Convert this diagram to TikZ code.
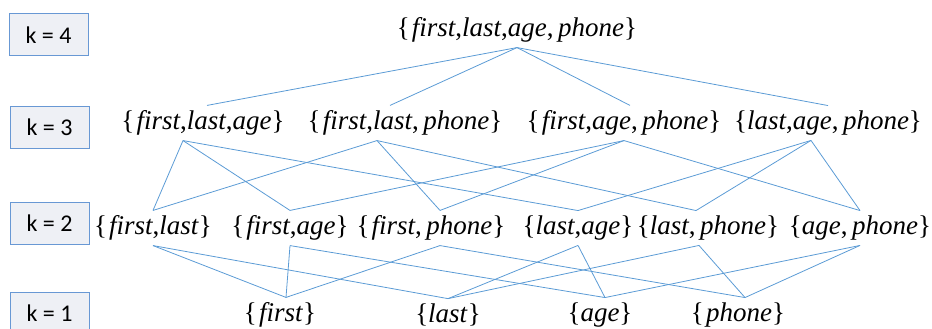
\documentclass[tikz,border=0pt]{standalone}
\usepackage{fontspec}
\setmainfont{Liberation Serif}
\newfontfamily\boxfont{Carlito}
\definecolor{linkblue}{RGB}{91,155,213}
\definecolor{boxfill}{RGB}{238,240,245}
\definecolor{boxline}{RGB}{104,152,212}
\newcommand{\attr}[1]{\textit{#1}}
\newcommand{\lb}{\{\hspace{0.08em}}

\begin{document}
\begin{tikzpicture}[x=1pt,y=-1pt,
    kbox/.style={draw=boxline,fill=boxfill,line width=1pt,minimum width=79pt,minimum height=42pt,
        font=\boxfont\fontsize{24}{24}\selectfont},
    subset/.style={inner xsep=0pt,inner ysep=5pt,font=\fontsize{27}{27}\selectfont},
    link/.style={draw=linkblue,line width=0.8pt}]
        \useasboundingbox (0,0) rectangle (932,329);
        \node[kbox] (k4) at (48.5,35) {k = 4};
        \node[kbox] (k3) at (49.5,127.5) {k = 3};
        \node[kbox] (k2) at (49.5,223.5) {k = 2};
        \node[kbox] (k1) at (49.5,313) {k = 1};

        \node[subset] (all) at (517,30) {\lb\attr{first},\attr{last},\attr{age},\,\attr{phone}\}};

        \node[subset] (fla) at (203,123) {\lb\attr{first},\attr{last},\attr{age}\}};
        \node[subset] (flp) at (405,123) {\lb\attr{first},\attr{last},\,\attr{phone}\}};
        \node[subset] (fap) at (624,123) {\lb\attr{first},\attr{age},\,\attr{phone}\}};
        \node[subset] (lap) at (828,123) {\{\attr{last},\attr{age},\,\attr{phone}\}};

        \node[subset] (fl) at (153,228) {\lb\attr{first},\attr{last}\}};
        \node[subset] (fa) at (290,228) {\lb\attr{first},\attr{age}\}};
        \node[subset] (fp) at (431,228) {\lb\attr{first},\,\attr{phone}\}};
        \node[subset] (la) at (578,228) {\{\attr{last},\attr{age}\}};
        \node[subset] (lp) at (708,228) {\{\attr{last},\,\attr{phone}\}};
        \node[subset] (ap) at (860,228) {\{\attr{age},\,\attr{phone}\}};

        \node[subset] (f) at (280,315) {\lb\attr{first}\}};
        \node[subset] (l) at (448,315) {\{\attr{last}\}};
        \node[subset] (a) at (600,315) {\{\attr{age}\}};
        \node[subset] (p) at (738,315) {\lb\attr{phone}\}};

        \draw[link] (all.south) -- ([xshift=4pt]fla.north);
        \draw[link] (all.south) -- ([xshift=-15pt]flp.north);
        \draw[link] (all.south) -- ([xshift=6pt]fap.north);
        \draw[link] (all.south) -- (lap.north);

        \draw[link] ([xshift=-20pt]fla.south) -- (fl.north);
        \draw[link] ([xshift=-20pt]fla.south) -- (fa.north);
        \draw[link] ([xshift=-20pt]fla.south) -- (la.north);
        \draw[link] ([xshift=-28pt]flp.south) -- (fl.north);
        \draw[link] ([xshift=-28pt]flp.south) -- ([xshift=9pt]fp.north);
        \draw[link] ([xshift=-28pt]flp.south) -- ([xshift=-12pt]lp.north);
        \draw[link] (fap.south) -- (fa.north);
        \draw[link] (fap.south) -- ([xshift=9pt]fp.north);
        \draw[link] (fap.south) -- (ap.north);
        \draw[link] ([xshift=-17pt]lap.south) -- (la.north);
        \draw[link] ([xshift=-17pt]lap.south) -- ([xshift=-12pt]lp.north);
        \draw[link] ([xshift=-17pt]lap.south) -- (ap.north);

        \draw[link] (fl.south) -- ([xshift=6pt]f.north);
        \draw[link] (fl.south) -- (l.north);
        \draw[link] (fa.south) -- ([xshift=6pt]f.north);
        \draw[link] (fa.south) -- ([xshift=5pt]a.north);
        \draw[link] ([xshift=9pt]fp.south) -- ([xshift=6pt]f.north);
        \draw[link] ([xshift=9pt]fp.south) -- ([xshift=7pt]p.north);
        \draw[link] (la.south) -- (l.north);
        \draw[link] (la.south) -- ([xshift=5pt]a.north);
        \draw[link] ([xshift=-9pt]lp.south) -- (l.north);
        \draw[link] ([xshift=-9pt]lp.south) -- ([xshift=7pt]p.north);
        \draw[link] (ap.south) -- ([xshift=5pt]a.north);
        \draw[link] (ap.south) -- ([xshift=7pt]p.north);
    \end{tikzpicture}
\end{document}
